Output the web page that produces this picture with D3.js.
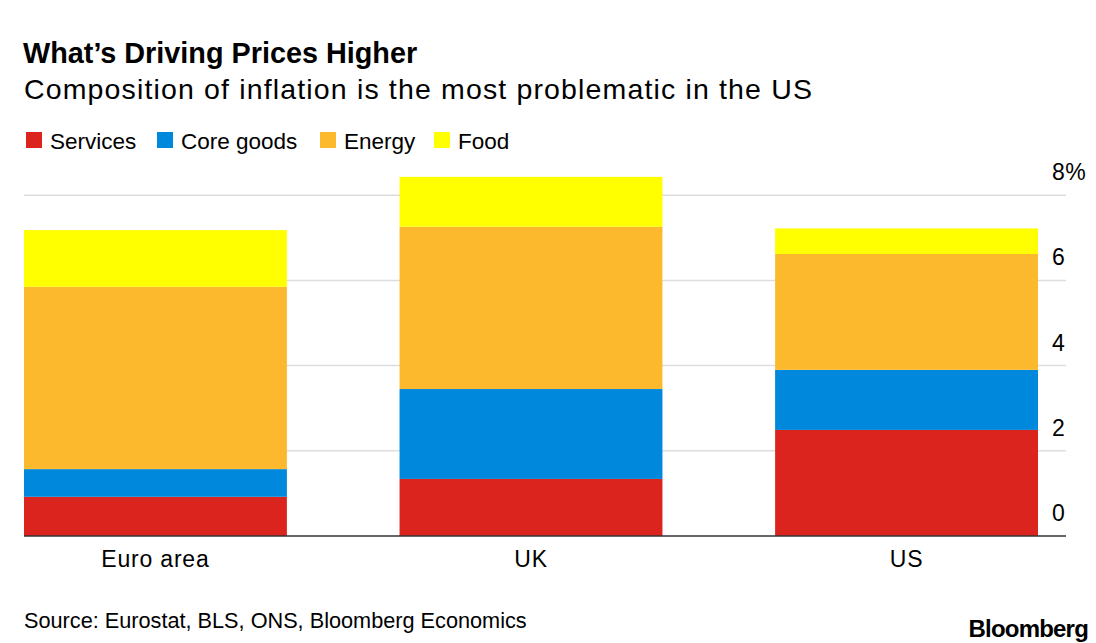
<!DOCTYPE html>
<html><head><meta charset="utf-8">
<script src="https://cdn.jsdelivr.net/npm/d3@7"></script>
<style>body{margin:0;background:#fff;} svg{display:block;font-family:"Liberation Sans",Arial,Helvetica,sans-serif;}</style>
</head><body><svg id="c" width="1096" height="643"></svg>
<script>
const categories = ["Euro area", "UK", "US"];
const seriesNames = ["Services", "Core goods", "Energy", "Food"];
const services = [0.92, 1.34, 2.49];
const coreGoods = [0.65, 2.11, 1.41];
const energy = [4.28, 3.81, 2.72];
const food = [1.33, 1.17, 0.60];
const colors = ["#dc241f", "#0089dc", "#fdb92e", "#ffff00"];
const yTicks = [0, 2, 4, 6, 8];

const data = categories.map((c, i) => ({cat: c, "Services": services[i], "Core goods": coreGoods[i], "Energy": energy[i], "Food": food[i]}));
const stack = d3.stack().keys(seriesNames)(data);

const svg = d3.select("#c");
const x = d3.scaleBand().domain(categories).range([24, 1038]).paddingInner(0.3).paddingOuter(0);
const y = d3.scaleLinear().domain([0, 8]).range([536, 195.2]);

// title
svg.append("text").attr("x", 23).attr("y", 63).attr("font-size", 28.8).attr("font-weight", "bold").attr("fill", "#000").text("What’s Driving Prices Higher");
svg.append("text").attr("x", 24).attr("y", 99).attr("font-size", 28.5).attr("letter-spacing", 1.15).attr("fill", "#000").text("Composition of inflation is the most problematic in the US");

// legend
const legX = [26, 157, 320, 434];
const lg = svg.append("g");
seriesNames.forEach((s, i) => {
  lg.append("rect").attr("x", legX[i]).attr("y", 132).attr("width", 16).attr("height", 16).attr("fill", colors[i]);
  lg.append("text").attr("x", legX[i] + 24).attr("y", 149).attr("font-size", 22.5).attr("fill", "#000").text(s);
});

// gridlines
const grid = svg.append("g");
grid.selectAll("line").data(yTicks.filter(t => t > 0)).join("line")
  .attr("x1", 24).attr("x2", 1066).attr("y1", d => y(d)).attr("y2", d => y(d))
  .attr("stroke", "#dddddd").attr("stroke-width", 1.5);

// bars
svg.append("g").selectAll("g").data(stack).join("g").attr("fill", (d, i) => colors[i])
  .selectAll("rect").data(d => d).join("rect")
  .attr("x", d => x(d.data.cat)).attr("width", x.bandwidth())
  .attr("y", d => y(d[1])).attr("height", d => y(d[0]) - y(d[1]));

// baseline
svg.append("line").attr("x1", 24).attr("x2", 1066).attr("y1", y(0)).attr("y2", y(0)).attr("stroke", "#333").attr("stroke-width", 1.5);

// y labels
svg.append("g").selectAll("text").data(yTicks).join("text")
  .attr("x", 1052).attr("y", d => y(d) - 15).attr("font-size", 23).attr("letter-spacing", 0.5).attr("fill", "#000")
  .text(d => d === 8 ? "8%" : d);

// x labels
svg.append("g").selectAll("text").data(categories).join("text")
  .attr("x", d => x(d) + x.bandwidth() / 2).attr("y", 567).attr("text-anchor", "middle")
  .attr("font-size", 23).attr("letter-spacing", 0.8).attr("fill", "#000").text(d => d);

// source
svg.append("text").attr("x", 24).attr("y", 628).attr("font-size", 21.7).attr("fill", "#000").text("Source: Eurostat, BLS, ONS, Bloomberg Economics");
svg.append("text").attr("x", 1088).attr("y", 637).attr("text-anchor", "end").attr("font-size", 24).attr("font-weight", "bold").attr("letter-spacing", -0.8).attr("fill", "#000").text("Bloomberg");
</script></body></html>
